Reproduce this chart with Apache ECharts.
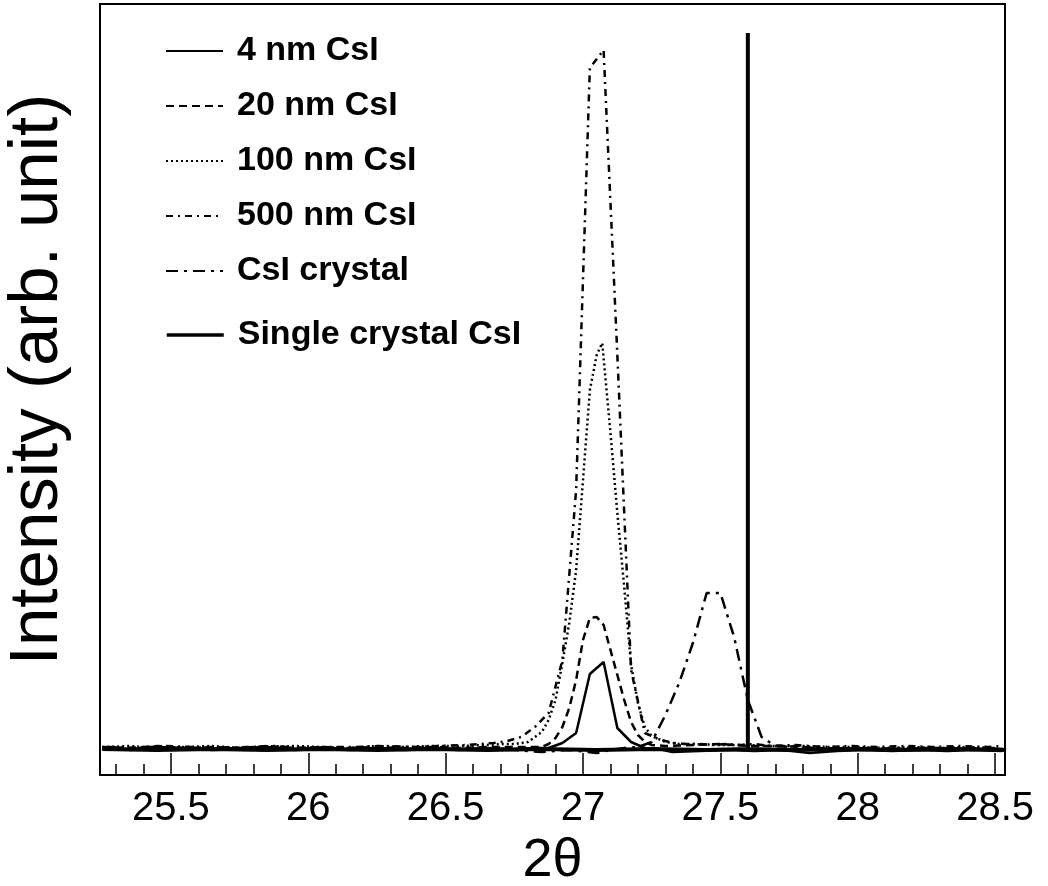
<!DOCTYPE html>
<html>
<head>
<meta charset="utf-8">
<script src="https://cdn.jsdelivr.net/npm/echarts@6/dist/echarts.min.js"></script>
<style>
html,body{margin:0;padding:0;background:#fff;}
#chart{width:1048px;height:886px;}
</style>
</head>
<body>
<div id="chart"></div>
<script>
// ---- data (2θ, intensity in arbitrary units) ----
const seriesNames = ['4 nm CsI', '20 nm CsI', '100 nm CsI', '500 nm CsI', 'CsI crystal', 'Single crystal CsI'];

const nm4 = [[25.25,27],[25.35,26],[25.45,28],[25.55,27],[25.65,26],[25.75,27],[25.85,28],[25.95,26],[26.05,27],[26.15,26],[26.25,27],[26.35,26],[26.45,27],[26.55,26],[26.65,27],[26.75,26],[26.825,27],[26.875,27],[26.925,32],[26.975,42],[27.025,101],[27.075,113],[27.125,47],[27.175,33],[27.225,27],[27.275,26],[27.325,23],[27.425,24],[27.525,25],[27.625,24],[27.725,25],[27.825,22],[27.925,24],[28.025,25],[28.125,24],[28.225,25],[28.325,24],[28.425,25],[28.525,24]];

const nm20 = [[25.25,28],[25.35,27],[25.45,29],[25.55,27],[25.65,28],[25.75,27],[25.85,29],[25.95,27],[26.05,28],[26.15,27],[26.25,28],[26.35,27],[26.45,28],[26.55,27],[26.65,28],[26.75,28],[26.8,28],[26.85,28],[26.875,31],[26.9,37],[26.925,48],[26.95,67],[26.975,95],[27.0,135],[27.025,157],[27.05,158],[27.075,150],[27.1,125],[27.125,100],[27.15,75],[27.175,53],[27.2,40],[27.225,33],[27.25,30],[27.3,29],[27.4,30],[27.5,31],[27.6,29],[27.7,29],[27.8,28],[27.9,26],[28.0,27],[28.1,26],[28.2,27],[28.3,27],[28.4,26],[28.5,27]];

const nm100 = [[25.25,28],[25.35,29],[25.45,27],[25.55,28],[25.65,29],[25.75,27],[25.85,28],[25.95,29],[26.05,28],[26.15,27],[26.25,29],[26.35,28],[26.45,29],[26.55,29],[26.65,30],[26.7,31],[26.75,31],[26.8,33],[26.85,43],[26.875,55],[26.9,75],[26.925,112],[26.95,152],[26.975,205],[27.0,295],[27.025,385],[27.05,420],[27.07,432],[27.1,342],[27.125,262],[27.15,188],[27.175,110],[27.2,72],[27.225,48],[27.25,39],[27.3,33],[27.35,31],[27.4,31],[27.5,30],[27.6,30],[27.7,29],[27.8,29],[27.9,28],[28.0,28],[28.1,27],[28.2,28],[28.3,27],[28.4,28],[28.5,27]];

const nm500 = [[25.275,28],[25.375,27],[25.475,29],[25.575,28],[25.675,27],[25.775,28],[25.875,29],[25.975,27],[26.075,28],[26.175,28],[26.275,29],[26.375,28],[26.475,29],[26.575,30],[26.625,31],[26.675,32],[26.725,34],[26.775,38],[26.825,48],[26.875,62],[26.925,115],[26.975,285],[27.025,707],[27.075,725],[27.125,420],[27.175,105],[27.225,42],[27.275,36],[27.325,32],[27.375,31],[27.425,31],[27.475,30],[27.525,31],[27.575,30],[27.625,31],[27.675,29],[27.775,30],[27.875,28],[27.975,29],[28.075,28],[28.175,29],[28.275,28],[28.375,29],[28.475,28],[28.525,29]];

const crystal = [[25.25,26],[25.35,25],[25.45,27],[25.55,26],[25.65,25],[25.75,26],[25.85,27],[25.95,25],[26.05,26],[26.15,25],[26.25,26],[26.35,25],[26.45,26],[26.55,25],[26.65,26],[26.75,25],[26.85,23],[26.95,25],[27.05,22],[27.1,25],[27.15,27],[27.2,28],[27.25,33],[27.3,60],[27.35,92],[27.4,132],[27.45,182],[27.5,182],[27.55,138],[27.6,75],[27.65,38],[27.7,29],[27.75,28],[27.85,27],[27.95,26],[28.05,27],[28.15,26],[28.25,27],[28.35,26],[28.45,27],[28.54,26]];

const single = [[25.25,26],[25.45,25],[25.65,26],[25.85,25],[26.05,26],[26.25,25],[26.45,26],[26.65,25],[26.85,26],[27.05,25],[27.25,26],[27.45,25],[27.6,26],[27.6,742],[27.6,26],[27.75,25],[27.95,26],[28.15,25],[28.35,26],[28.54,25]];

const majorTicks = [25.5, 26, 26.5, 27, 27.5, 28, 28.5];
const minorTicks = [25.3,25.4,25.6,25.7,25.8,25.9,26.1,26.2,26.3,26.4,26.6,26.7,26.8,26.9,27.1,27.2,27.3,27.4,27.6,27.7,27.8,27.9,28.1,28.2,28.3,28.4];
const xMin = 25.242, xMax = 28.536;
const yMin = 0, yMax = 771;

// ---- chart ----
const FONT = '"Liberation Sans", Arial, Helvetica, sans-serif';
const chart = echarts.init(document.getElementById('chart'), null, {renderer: 'canvas'});

function lineSeries(name, data, type, width) {
  return {
    name: name, type: 'line', data: data, symbol: 'none', showSymbol: false,
    xAxisIndex: 0, yAxisIndex: 0,
    lineStyle: {color: '#000', width: width, type: type, join: 'bevel', cap: 'butt'},
    itemStyle: {color: '#000'},
    emphasis: {disabled: true}, silent: true
  };
}

const legendText = {fontFamily: FONT, fontWeight: 'bold', fontSize: 34, color: '#000', lineHeight: 36, padding: [0, 0, 0, 9]};
const legendCommon = {orient: 'vertical', left: 165, padding: 0, itemWidth: 57, itemHeight: 14, itemGap: 19,
  textStyle: legendText, selectedMode: false, itemStyle: {opacity: 0, borderWidth: 0}};

chart.setOption({
  animation: false,
  backgroundColor: '#fff',
  color: ['#000'],
  grid: {left: 100, top: 4, right: 43, bottom: 111, outerBoundsMode: 'none', containLabel: false,
    show: true, borderColor: '#000', borderWidth: 2, backgroundColor: 'transparent'},
  legend: [
    Object.assign({data: seriesNames.slice(0, 5), top: 33, lineStyle: {width: 2}}, legendCommon),
    Object.assign({data: seriesNames.slice(5), top: 317, lineStyle: {width: 3.5}}, legendCommon)
  ],
  xAxis: [
    {
      type: 'value', min: xMin, max: xMax, position: 'bottom',
      name: '2θ', nameLocation: 'middle', nameGap: 58,
      nameTextStyle: {fontFamily: FONT, fontSize: 54, color: '#000'},
      axisLine: {show: true, lineStyle: {color: '#000', width: 2}},
      axisTick: {show: true, inside: true, length: 22, customValues: majorTicks, lineStyle: {color: '#000', width: 1.5}},
      axisLabel: {show: true, customValues: majorTicks, fontFamily: FONT, fontSize: 40, color: '#000', margin: 14},
      splitLine: {show: false}
    },
    {
      type: 'value', min: xMin, max: xMax, position: 'bottom', gridIndex: 0,
      axisLine: {show: false},
      axisTick: {show: true, inside: true, length: 11, customValues: minorTicks, lineStyle: {color: '#000', width: 1.5}},
      axisLabel: {show: false},
      splitLine: {show: false}
    }
  ],
  yAxis: {
    type: 'value', min: yMin, max: yMax,
    name: 'Intensity (arb. unit)', nameLocation: 'middle', nameGap: 28, nameRotate: 90,
    nameTextStyle: {fontFamily: FONT, fontSize: 69, color: '#000', padding: [0, 0, 0, 20]},
    axisLine: {show: true, lineStyle: {color: '#000', width: 2}},
    axisTick: {show: false}, axisLabel: {show: false}, splitLine: {show: false}
  },
  series: [
    lineSeries(seriesNames[0], nm4, 'solid', 2.5),
    lineSeries(seriesNames[1], nm20, [8, 5], 2.5),
    lineSeries(seriesNames[2], nm100, [2, 3], 2.5),
    lineSeries(seriesNames[3], nm500, [7, 5, 2, 5], 2.5),
    lineSeries(seriesNames[4], crystal, [12, 6, 3, 6], 2.5),
    lineSeries(seriesNames[5], single, 'solid', 4)
  ]
});
</script>
</body>
</html>
